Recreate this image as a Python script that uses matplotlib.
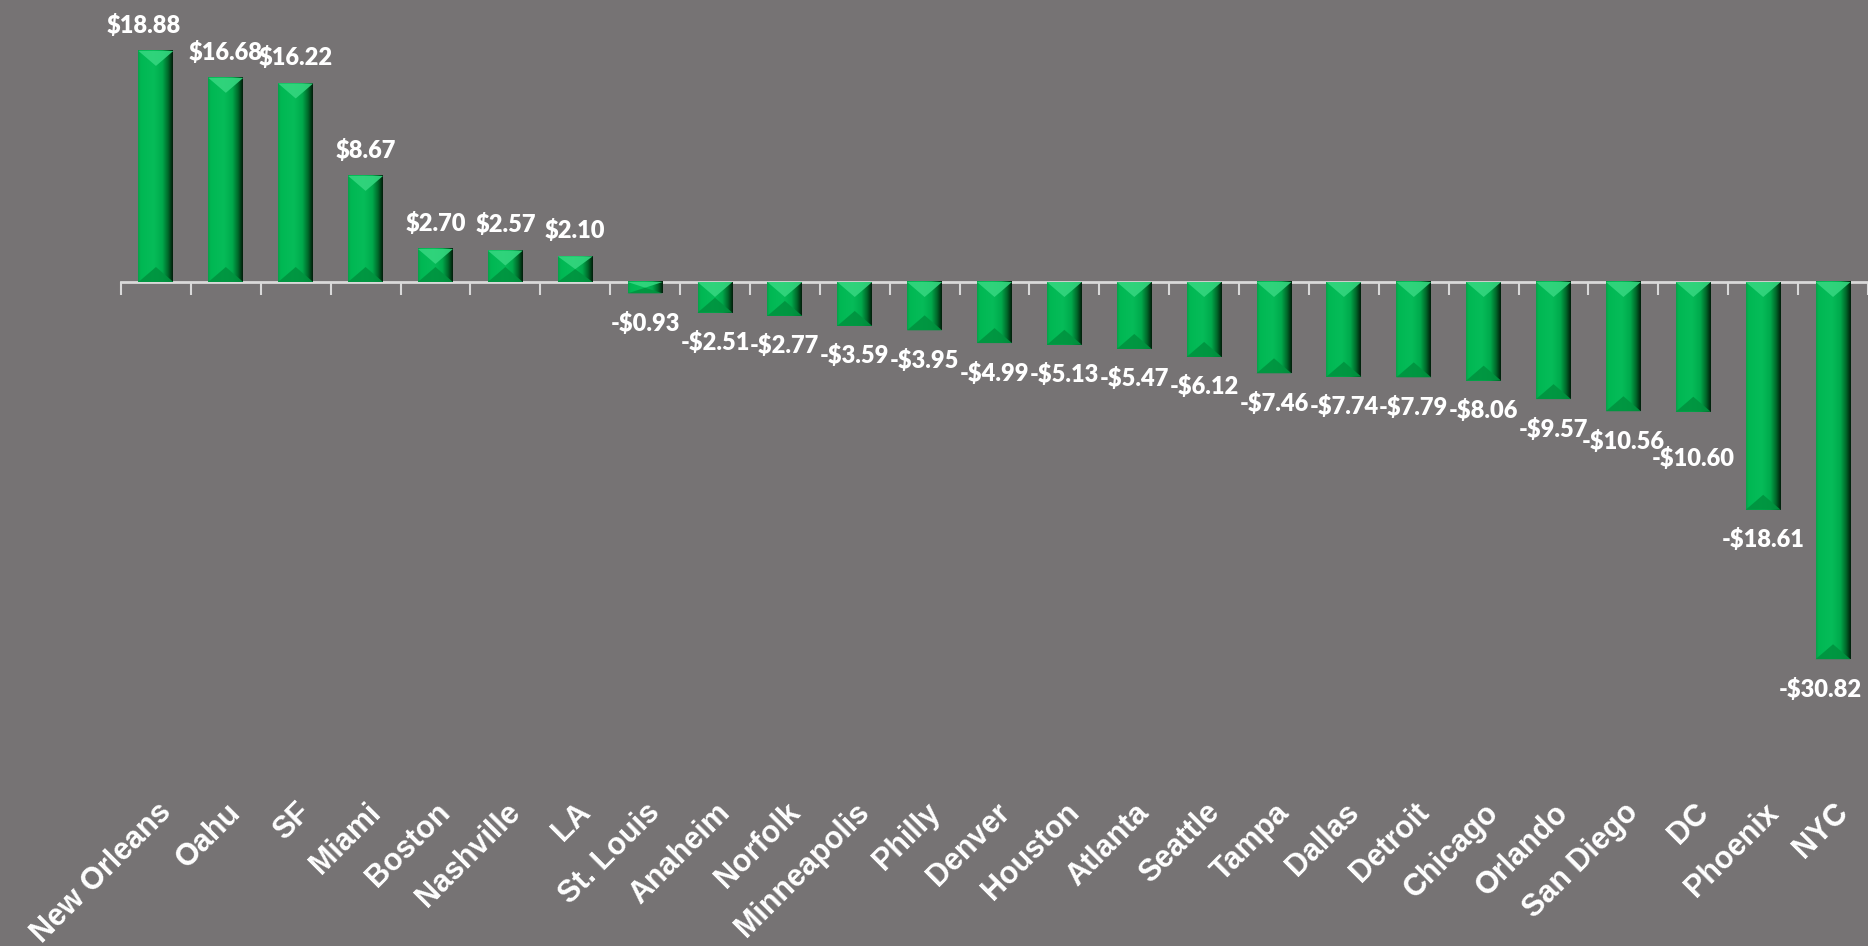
import matplotlib
matplotlib.use('Agg')
import matplotlib.pyplot as plt
import numpy as np
from matplotlib.colors import LinearSegmentedColormap
from matplotlib.patches import Polygon

cities = ['New Orleans', 'Oahu', 'SF', 'Miami', 'Boston', 'Nashville', 'LA',
          'St. Louis', 'Anaheim', 'Norfolk', 'Minneapolis', 'Philly', 'Denver',
          'Houston', 'Atlanta', 'Seattle', 'Tampa', 'Dallas', 'Detroit',
          'Chicago', 'Orlando', 'San Diego', 'DC', 'Phoenix', 'NYC']
values = [18.88, 16.68, 16.22, 8.67, 2.70, 2.57, 2.10, -0.93, -2.51, -2.77,
          -3.59, -3.95, -4.99, -5.13, -5.47, -6.12, -7.46, -7.74, -7.79,
          -8.06, -9.57, -10.56, -10.60, -18.61, -30.82]

# hand-moved data labels in the original (points)
label_nudge = {'New Orleans': (-9, 0), 'DC': (0, -12), 'NYC': (-9, 0)}

BG = '#767374'
AXIS = '#D9D9D9'

W, H = 1868, 946
fig = plt.figure(figsize=(W / 100, H / 100), dpi=100, facecolor=BG)
ax_bottom_px = 785
zero_px = 282
px_per_unit = 12.24
ax = fig.add_axes([121 / W, 1 - ax_bottom_px / H, 1 - 121 / W, ax_bottom_px / H])
ax.set_facecolor(BG)

x = np.arange(len(cities))
ymax = zero_px / px_per_unit
ymin = -(ax_bottom_px - zero_px) / px_per_unit

bars = ax.bar(x, values, width=0.5, color='#00B853', zorder=2)

# bevel look: horizontal shading + light top / dark bottom facets
shade = LinearSegmentedColormap.from_list('shade', [
    (0.0, '#08A04A'), (0.07, '#00B853'), (0.45, '#06BC59'),
    (0.70, '#00AA4C'), (0.86, '#006C2C'), (1.0, '#001E0A')])
grad = np.linspace(0, 1, 64)[None, :]
for b in bars:
    x0, w = b.get_x(), b.get_width()
    y0, y1 = sorted([b.get_y(), b.get_y() + b.get_height()])
    ax.imshow(grad, extent=[x0, x0 + w, y0, y1], aspect='auto', cmap=shade,
              zorder=3, interpolation='bicubic')
    d = min(15 / px_per_unit, (y1 - y0) / 2)
    xc = x0 + w / 2
    ax.add_patch(Polygon([(x0, y1), (x0 + w, y1), (xc, y1 - d)],
                         closed=True, color='#34D67F', alpha=0.9, lw=0, zorder=4))
    ax.add_patch(Polygon([(x0, y0), (x0 + w, y0), (xc, y0 + d)],
                         closed=True, color='#00933F', alpha=0.9, lw=0, zorder=4))

ax.set_xlim(-0.5, len(cities) - 0.5)
ax.set_ylim(ymin, ymax)

# data labels
for xi, v, name in zip(x, values, cities):
    dx, dy = label_nudge.get(name, (0, 0))
    if v >= 0:
        txt, off = f'${v:.2f}', 13
    else:
        txt, off = f'-${abs(v):.2f}', -27
    ax.annotate(txt, (xi, v), xytext=(dx, off + dy), textcoords='offset points',
                ha='center', va='baseline', color='white', fontsize=17,
                fontweight='heavy', family='Lato', zorder=5)

# axis line at zero with ticks between categories
for s in ['left', 'right', 'top']:
    ax.spines[s].set_visible(False)
ax.spines['bottom'].set_position(('data', 0))
ax.spines['bottom'].set_color(AXIS)
ax.spines['bottom'].set_linewidth(2)
ax.spines['bottom'].set_zorder(1)
ax.set_xticks(np.arange(len(cities) + 1) - 0.5)
ax.tick_params(axis='x', length=9, width=1.5, color=AXIS, direction='out',
               labelbottom=False)
ax.set_yticks([])

# category labels at the bottom of the plot area
sec = ax.secondary_xaxis('bottom')
sec.spines['bottom'].set_visible(False)
sec.set_xticks(x, labels=cities, rotation=45, ha='right', rotation_mode='anchor',
               fontsize=22, fontweight='bold', family='Liberation Sans', color='white')
sec.tick_params(axis='x', length=0, pad=9)

fig.savefig('out.png', dpi=100, facecolor=BG)
